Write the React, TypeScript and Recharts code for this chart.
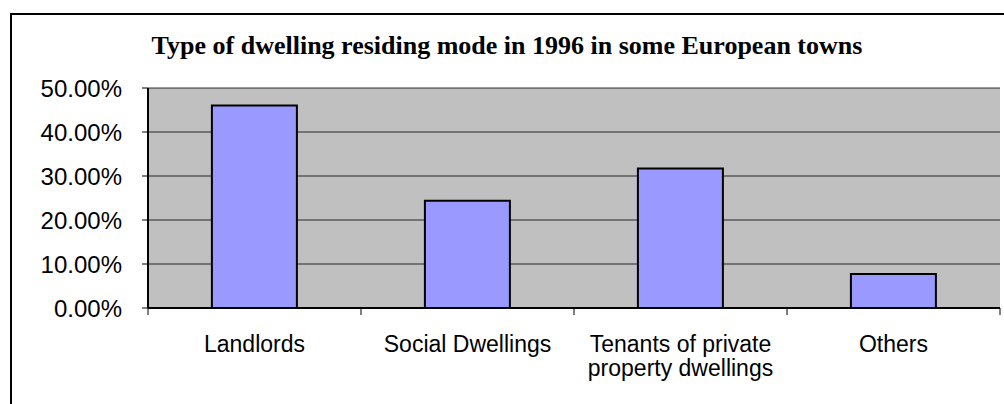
import { Bar, BarChart, CartesianGrid, XAxis, YAxis } from "recharts";

const categories = ["Landlords", "Social Dwellings", "Tenants of private property dwellings", "Others"];
const labelLines = [["Landlords"], ["Social Dwellings"], ["Tenants of private", "property dwellings"], ["Others"]];
const shares = [0.46, 0.244, 0.317, 0.077];
const yTicks = [0, 0.1, 0.2, 0.3, 0.4, 0.5];

const PLOT_BG = "#c0c0c0";
const BAR_FILL = "#9999ff";
const INK = "#000000";
const FRAME = "#808080";
const SANS = "'Liberation Sans', Arial, sans-serif";
const SERIF = "'Liberation Serif', 'Times New Roman', serif";

const data = categories.map((name, i) => ({ name, share: shares[i] }));

// Category label + Excel-style tick marks on the category boundaries
const CategoryTick = (props: any) => {
  const { x, y, index, payload } = props;
  const half = payload?.offset ?? 0;
  const lines = labelLines[index] ?? [String(payload?.value ?? "")];
  const last = index === categories.length - 1;
  return (
    <g>
      <line x1={x - half} x2={x - half} y1={y} y2={y + 7} stroke={INK} strokeWidth={1} />
      {last && <line x1={x + half} x2={x + half} y1={y} y2={y + 7} stroke={INK} strokeWidth={1} />}
      <text x={x} y={y + 44} textAnchor="middle" fontFamily={SANS} fontSize={23} fill={INK}>
        {lines.map((line, i) => (
          <tspan key={i} x={x} dy={i === 0 ? 0 : 24}>
            {line}
          </tspan>
        ))}
      </text>
    </g>
  );
};

export default function App() {
  return (
    <div
      style={{
        position: "absolute",
        left: 0,
        top: 0,
        width: 1004,
        height: 404,
        overflow: "hidden",
        background: "#fff",
      }}
    >
      {/* outer chart frame, runs off the right and bottom edges */}
      <div
        style={{
          position: "absolute",
          left: 10,
          top: 13,
          width: 1200,
          height: 600,
          borderTop: `2px solid ${INK}`,
          borderLeft: `2px solid ${INK}`,
        }}
      />
      <div
        style={{
          position: "absolute",
          left: 0,
          width: 1014,
          top: 33,
          textAlign: "center",
          fontFamily: SERIF,
          fontWeight: 700,
          fontSize: 26,
          lineHeight: "26px",
          color: INK,
          whiteSpace: "nowrap",
        }}
      >
        Type of dwelling residing mode in 1996 in some European towns
      </div>
      <div style={{ position: "absolute", left: 0, top: 0 }}>
        <BarChart
          width={1004}
          height={404}
          data={data}
          barCategoryGap="30%"
          margin={{ top: 88, right: 4, bottom: 0, left: 0 }}
        >
          <CartesianGrid fill={PLOT_BG} fillOpacity={1} vertical={false} stroke={INK} strokeOpacity={0.8} />
          <XAxis
            dataKey="name"
            height={96}
            interval={0}
            tickLine={false}
            tickSize={0}
            tickMargin={0}
            axisLine={{ stroke: INK, strokeWidth: 2 }}
            tick={<CategoryTick />}
          />
          <XAxis
            xAxisId="top"
            orientation="top"
            type="number"
            domain={[0, 4]}
            height={0}
            tick={false}
            tickLine={false}
            axisLine={{ stroke: FRAME, strokeWidth: 2 }}
          />
          <YAxis
            width={148}
            domain={[0, 0.5]}
            ticks={yTicks}
            interval={0}
            tickSize={6}
            tickMargin={20}
            axisLine={{ stroke: INK, strokeWidth: 2 }}
            tickLine={{ stroke: INK, strokeWidth: 1 }}
            tick={{ fontFamily: SANS, fontSize: 24, fill: INK }}
            tickFormatter={(v: number) => `${(v * 100).toFixed(2)}%`}
          />
          <YAxis
            yAxisId="right"
            orientation="right"
            width={0}
            tick={false}
            tickLine={false}
            axisLine={{ stroke: FRAME, strokeWidth: 2 }}
          />
          <Bar dataKey="share" fill={BAR_FILL} stroke={INK} strokeWidth={2} isAnimationActive={false} />
        </BarChart>
      </div>
    </div>
  );
}
